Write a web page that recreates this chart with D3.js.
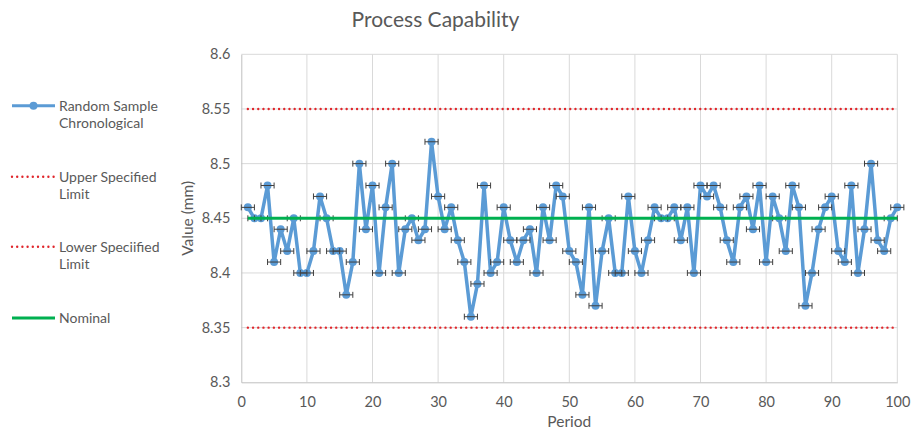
<!DOCTYPE html>
<html>
<head>
<meta charset="utf-8">
<script src="https://cdn.jsdelivr.net/npm/d3@7"></script>
<style>
  body { margin: 0; background: #fff; }
  text { font-family: Lato, "Liberation Sans", sans-serif; fill: #595959; }
</style>
</head>
<body>
<div id="chart"></div>
<script>
// Random sample, one value per period (1..100)
const samples = [
  8.46, 8.45, 8.45, 8.48, 8.41, 8.44, 8.42, 8.45, 8.40, 8.40,
  8.42, 8.47, 8.45, 8.42, 8.42, 8.38, 8.41, 8.50, 8.44, 8.48,
  8.40, 8.46, 8.50, 8.40, 8.44, 8.45, 8.43, 8.44, 8.52, 8.47,
  8.44, 8.46, 8.43, 8.41, 8.36, 8.39, 8.48, 8.40, 8.41, 8.46,
  8.43, 8.41, 8.43, 8.44, 8.40, 8.46, 8.43, 8.48, 8.47, 8.42,
  8.41, 8.38, 8.46, 8.37, 8.42, 8.45, 8.40, 8.40, 8.47, 8.42,
  8.40, 8.43, 8.46, 8.45, 8.45, 8.46, 8.43, 8.46, 8.40, 8.48,
  8.47, 8.48, 8.46, 8.43, 8.41, 8.46, 8.47, 8.44, 8.48, 8.41,
  8.47, 8.45, 8.42, 8.48, 8.46, 8.37, 8.40, 8.44, 8.46, 8.47,
  8.42, 8.41, 8.48, 8.40, 8.44, 8.50, 8.43, 8.42, 8.45, 8.46
];
const upperLimit = 8.55;
const lowerLimit = 8.35;
const nominal = 8.45;
const xError = 1;
const xTicks = [0, 10, 20, 30, 40, 50, 60, 70, 80, 90, 100];
const yTicks = [8.3, 8.35, 8.4, 8.45, 8.5, 8.55, 8.6];

const points = samples.map((v, i) => ({ period: i + 1, value: v }));
const first = points[0].period, last = points[points.length - 1].period;

const width = 920, height = 441;
const plotLeft = 241.3, plotRight = 897.3, plotTop = 54.3, plotBottom = 382.3;

const x = d3.scaleLinear().domain([0, 100]).range([plotLeft, plotRight]);
const y = d3.scaleLinear().domain([8.3, 8.6]).range([plotBottom, plotTop]);

const svg = d3.select('#chart')
  .append('svg')
    .attr('width', width)
    .attr('height', height);

svg.append('rect').attr('width', width).attr('height', height).attr('fill', '#fff');

// gridlines
svg.append('g')
  .selectAll('line')
  .data(xTicks.slice(1))
  .join('line')
    .attr('x1', d => x(d)).attr('x2', d => x(d))
    .attr('y1', plotTop).attr('y2', plotBottom)
    .attr('stroke', '#d9d9d9');

svg.append('g')
  .selectAll('line')
  .data(yTicks.slice(1))
  .join('line')
    .attr('x1', plotLeft).attr('x2', plotRight)
    .attr('y1', d => y(d)).attr('y2', d => y(d))
    .attr('stroke', '#d9d9d9');

// axes
const xAxis = svg.append('g')
    .attr('transform', `translate(0,${plotBottom})`)
    .call(d3.axisBottom(x).tickValues(xTicks).tickSize(0).tickPadding(14));
const yAxis = svg.append('g')
    .attr('transform', `translate(${plotLeft},0)`)
    .call(d3.axisLeft(y).tickValues(yTicks).tickSize(0).tickPadding(11).tickFormat(d3.format('')));
[xAxis, yAxis].forEach(a => {
  a.select('.domain').attr('stroke', '#bfbfbf');
  a.selectAll('text')
    .attr('font-size', '14.5px')
    .attr('font-family', 'Lato, sans-serif')
    .attr('fill', '#595959');
});

// sample series
svg.append('path')
  .datum(points)
    .attr('fill', 'none')
    .attr('stroke', '#5b9bd5')
    .attr('stroke-width', 3.5)
    .attr('stroke-linejoin', 'round')
    .attr('d', d3.line().x(d => x(d.period)).y(d => y(d.value)));

svg.append('g')
  .selectAll('circle')
  .data(points)
  .join('circle')
    .attr('cx', d => x(d.period))
    .attr('cy', d => y(d.value))
    .attr('r', 4)
    .attr('fill', '#5b9bd5');

// horizontal error bars
const eb = svg.append('g')
    .attr('stroke', '#404040')
    .attr('stroke-width', 1)
  .selectAll('g')
  .data(points)
  .join('g');
eb.append('line')
    .attr('x1', d => x(d.period - xError)).attr('x2', d => x(d.period + xError))
    .attr('y1', d => y(d.value)).attr('y2', d => y(d.value));
eb.append('line')
    .attr('x1', d => x(d.period - xError)).attr('x2', d => x(d.period - xError))
    .attr('y1', d => y(d.value) - 3).attr('y2', d => y(d.value) + 3);
eb.append('line')
    .attr('x1', d => x(d.period + xError)).attr('x2', d => x(d.period + xError))
    .attr('y1', d => y(d.value) - 3).attr('y2', d => y(d.value) + 3);

// limits and nominal
const limits = [
  { v: upperLimit, color: '#e0262b', dotted: true },
  { v: lowerLimit, color: '#e0262b', dotted: true },
  { v: nominal, color: '#00b050', dotted: false }
];
svg.append('g')
  .selectAll('line')
  .data(limits)
  .join('line')
    .attr('x1', x(first)).attr('x2', x(last))
    .attr('y1', d => y(d.v)).attr('y2', d => y(d.v))
    .attr('stroke', d => d.color)
    .attr('stroke-width', d => d.dotted ? 2.4 : 3)
    .attr('stroke-linecap', d => d.dotted ? 'round' : 'butt')
    .attr('stroke-dasharray', d => d.dotted ? '0 5.2' : null);

// titles
svg.append('text')
    .attr('x', 435.5).attr('y', 27)
    .attr('text-anchor', 'middle')
    .attr('font-size', '21px')
    .text('Process Capability');

svg.append('text')
    .attr('x', (plotLeft + plotRight) / 2).attr('y', 427)
    .attr('text-anchor', 'middle')
    .attr('font-size', '15.5px')
    .text('Period');

svg.append('text')
    .attr('transform', `translate(193,${(plotTop + plotBottom) / 2}) rotate(-90)`)
    .attr('text-anchor', 'middle')
    .attr('font-size', '15.5px')
    .text('Value (mm)');

// legend
const legendItems = [
  { lines: ['Random Sample', 'Chronological'], y: 105.7, color: '#5b9bd5', dotted: false, marker: true, w: 3 },
  { lines: ['Upper Specified', 'Limit'], y: 176.7, color: '#e0262b', dotted: true, marker: false, w: 2.4 },
  { lines: ['Lower Speciified', 'Limit'], y: 246.7, color: '#e0262b', dotted: true, marker: false, w: 2.4 },
  { lines: ['Nominal'], y: 318, color: '#00b050', dotted: false, marker: false, w: 3 }
];
const lg = svg.append('g')
  .selectAll('g')
  .data(legendItems)
  .join('g')
    .attr('transform', d => `translate(0,${d.y})`);
lg.append('line')
    .attr('x1', 12).attr('x2', 55)
    .attr('stroke', d => d.color)
    .attr('stroke-width', d => d.w)
    .attr('stroke-linecap', d => d.dotted ? 'round' : 'butt')
    .attr('stroke-dasharray', d => d.dotted ? '0 5.2' : null);
lg.filter(d => d.marker).append('circle')
    .attr('cx', 33.5).attr('r', 4).attr('fill', d => d.color);
lg.append('text')
    .attr('x', 59).attr('y', 5)
    .attr('font-size', '14px')
  .selectAll('tspan')
  .data(d => d.lines)
  .join('tspan')
    .attr('x', 59)
    .attr('dy', (d, i) => i === 0 ? 0 : 17.5)
    .text(d => d);
</script>
</body>
</html>
